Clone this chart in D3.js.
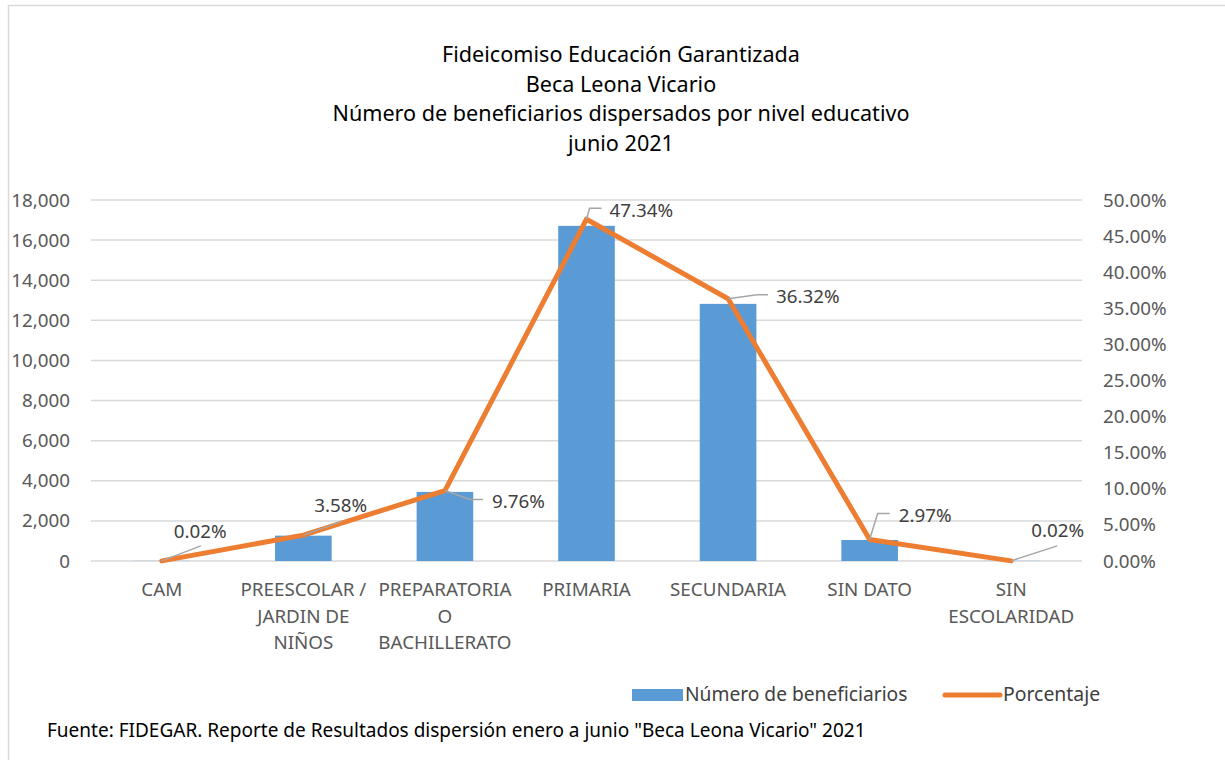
<!DOCTYPE html>
<html>
<head>
<meta charset="utf-8">
<script src="https://cdn.jsdelivr.net/npm/d3@7"></script>
<style>
  body { margin: 0; background: #fff; }
  svg { display: block; }
</style>
</head>
<body>
<svg width="1225" height="760"></svg>
<script>
// data
var categories = ["CAM", "PREESCOLAR / JARDIN DE NIÑOS", "PREPARATORIA O BACHILLERATO", "PRIMARIA", "SECUNDARIA", "SIN DATO", "SIN ESCOLARIDAD"];
var catLines = [["CAM"], ["PREESCOLAR /", "JARDIN DE", "NIÑOS"], ["PREPARATORIA", "O", "BACHILLERATO"], ["PRIMARIA"], ["SECUNDARIA"], ["SIN DATO"], ["SIN", "ESCOLARIDAD"]];
var beneficiarios = [7, 1264, 3445, 16711, 12821, 1048, 7];
var porcentaje = [0.0002, 0.0358, 0.0976, 0.4734, 0.3632, 0.0297, 0.0002];
var leftTicks = [0, 2000, 4000, 6000, 8000, 10000, 12000, 14000, 16000, 18000];
var rightTicks = [0, 0.05, 0.10, 0.15, 0.20, 0.25, 0.30, 0.35, 0.40, 0.45, 0.50];
var titleLines = ["Fideicomiso Educación Garantizada", "Beca Leona Vicario", "Número de beneficiarios dispersados por nivel educativo", "junio 2021"];

// label offsets from the point (left edge / vertical centre) and leader path
var labelPos = [
    {dx: 12, dy: -29, lead: [[0, 0], [39, -15]]},
    {dx: 11, dy: -30, lead: [[0, 0], [39, -14]]},
    {dx: 47, dy: 11, lead: [[0, 0], [25, 9], [38, 9]]},
    {dx: 23, dy: -9, lead: [[0, 0], [3, -11], [15, -11]]},
    {dx: 48, dy: -2, lead: [[0, 0], [29, -4], [40, -4]]},
    {dx: 29, dy: -24, lead: [[0, 0], [8, -26], [20, -26]]},
    {dx: 20, dy: -30, lead: [[0, 0], [46, -15]]}
];

var svg = d3.select("svg");
var margin = {left: 91, right: 143, top: 200, bottom: 199};
var W = 1225, H = 760;
var font = "'Noto Sans', sans-serif";

// chart frame
svg.append("rect")
    .attr("x", 8.5).attr("y", 5.5)
    .attr("width", 1240).attr("height", 780)
    .attr("fill", "#fff").attr("stroke", "#d9d9d9").attr("stroke-width", 1.5);

var x = d3.scaleBand().domain(categories).range([margin.left, W - margin.right]).paddingInner(0.6).paddingOuter(0.3);
var xc = d3.scaleBand().domain(categories).range([margin.left, W - margin.right]);
var y = d3.scaleLinear().domain([0, 18000]).range([H - margin.bottom, margin.top]);
var y2 = d3.scaleLinear().domain([0, 0.5]).range([H - margin.bottom, margin.top]);

// title
svg.append("g").selectAll("text")
    .data(titleLines).enter().append("text")
    .attr("x", 621).attr("y", function (d, i) { return 62 + i * 29.5; })
    .attr("text-anchor", "middle")
    .style("font-family", font).style("font-size", "21.6px").attr("fill", "#000")
    .text(function (d) { return d; });

// gridlines
svg.append("g").selectAll("line")
    .data(leftTicks).enter().append("line")
    .attr("x1", margin.left).attr("x2", W - margin.right)
    .attr("y1", function (d) { return y(d); }).attr("y2", function (d) { return y(d); })
    .attr("stroke", "#d9d9d9").attr("stroke-width", 1.5);

// left axis
var leftAxis = svg.append("g")
    .attr("transform", "translate(" + (margin.left - 21) + ",0)")
    .call(d3.axisLeft(y).tickValues(leftTicks).tickSize(0).tickPadding(0).tickFormat(d3.format(",")));
leftAxis.select(".domain").remove();
leftAxis.selectAll("text").style("font-family", font).style("font-size", "18.8px").attr("fill", "#595959");

// right axis
var rightAxis = svg.append("g")
    .attr("transform", "translate(" + (W - margin.right + 21) + ",0)")
    .call(d3.axisRight(y2).tickValues(rightTicks).tickSize(0).tickPadding(0).tickFormat(d3.format(".2%")));
rightAxis.select(".domain").remove();
rightAxis.selectAll("text").style("font-family", font).style("font-size", "18.8px").attr("fill", "#595959");

// bars
svg.append("g").selectAll("rect")
    .data(beneficiarios).enter().append("rect")
    .attr("x", function (d, i) { return x(categories[i]); })
    .attr("width", x.bandwidth())
    .attr("y", function (d) { return y(d); })
    .attr("height", function (d) { return y(0) - y(d); })
    .attr("fill", "#5b9bd5");

// x labels
var xl = svg.append("g");
catLines.forEach(function (lines, i) {
    var t = xl.append("text")
        .attr("text-anchor", "middle")
        .style("font-family", font).style("font-size", "18.8px").attr("fill", "#595959");
    lines.forEach(function (s, j) {
        t.append("tspan")
            .attr("x", xc(categories[i]) + xc.bandwidth() / 2)
            .attr("y", 596 + j * 26.5)
            .text(s);
    });
});

// line
var pts = porcentaje.map(function (d, i) { return [xc(categories[i]) + xc.bandwidth() / 2, y2(d)]; });
svg.append("path")
    .datum(pts)
    .attr("d", d3.line())
    .attr("fill", "none").attr("stroke", "#ed7d31").attr("stroke-width", 5)
    .attr("stroke-linejoin", "round").attr("stroke-linecap", "round");

// data labels with leader lines
var dl = svg.append("g");
pts.forEach(function (p, i) {
    var lp = labelPos[i];
    dl.append("path")
        .attr("d", d3.line()(lp.lead.map(function (q) { return [p[0] + q[0], p[1] + q[1]]; })))
        .attr("fill", "none").attr("stroke", "#a6a6a6").attr("stroke-width", 1.5);
    dl.append("text")
        .attr("x", p[0] + lp.dx).attr("y", p[1] + lp.dy)
        .attr("dy", "0.35em")
        .style("font-family", font).style("font-size", "18.8px").attr("fill", "#404040")
        .text(d3.format(".2%")(porcentaje[i]));
});

// legend
var lg = svg.append("g");
lg.append("rect").attr("x", 632).attr("y", 689).attr("width", 51).attr("height", 12).attr("fill", "#5b9bd5");
lg.append("text").attr("x", 685).attr("y", 701)
    .style("font-family", font).style("font-size", "19.2px").attr("fill", "#404040")
    .text("Número de beneficiarios");
lg.append("line").attr("x1", 945).attr("x2", 1000).attr("y1", 695).attr("y2", 695)
    .attr("stroke", "#ed7d31").attr("stroke-width", 5).attr("stroke-linecap", "round");
lg.append("text").attr("x", 1003).attr("y", 701)
    .style("font-family", font).style("font-size", "19.4px").attr("fill", "#404040")
    .text("Porcentaje");

// source note
svg.append("text").attr("x", 47).attr("y", 737)
    .style("font-family", font).style("font-size", "19px").attr("fill", "#000")
    .text("Fuente: FIDEGAR. Reporte de Resultados dispersión enero a junio \"Beca Leona Vicario\" 2021");
</script>
</body>
</html>
